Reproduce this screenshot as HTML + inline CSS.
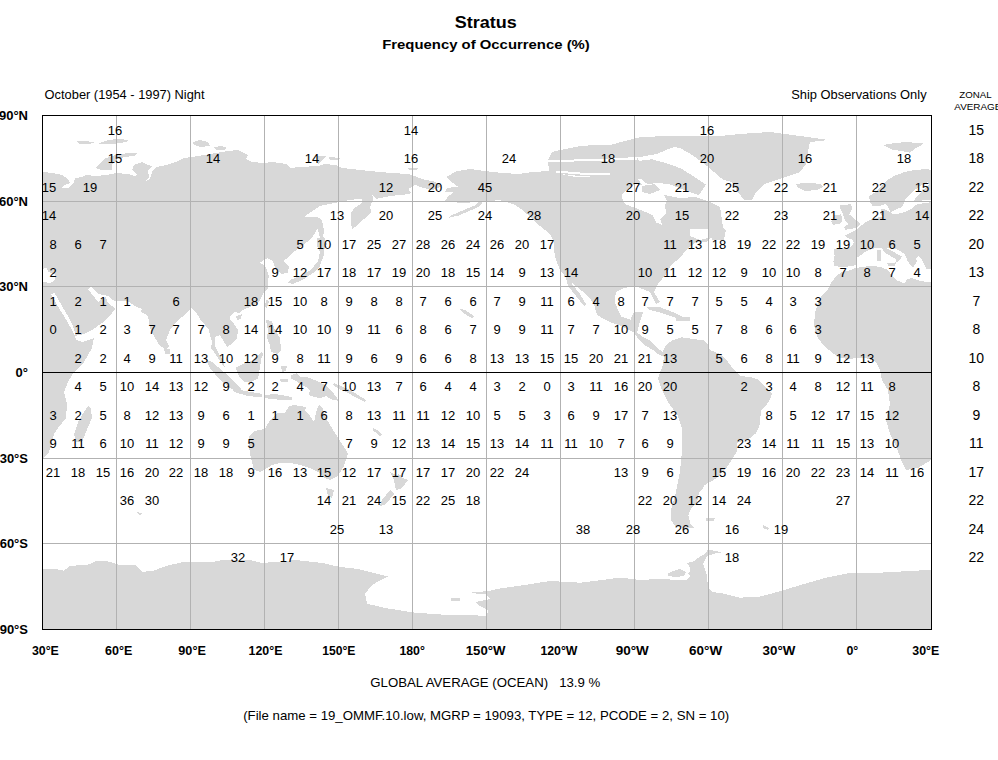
<!DOCTYPE html>
<html><head><meta charset="utf-8"><style>html,body{margin:0;padding:0;background:#fff;width:998px;height:760px;overflow:hidden;position:relative}</style></head>
<body><svg width="998" height="760" viewBox="0 0 998 760" style="position:absolute;left:0;top:0"><defs><clipPath id="c"><rect x="42" y="115" width="889" height="514"/></clipPath></defs><g clip-path="url(#c)"><path d="M30,172 43,172 52,173 62,175 68,179 70,183 64,185 62,188 68,188 74,183 75,178 82,177 86,175 96,176 106,175 116,173 128,174 134,176 138,175 132,170 134,165 142,162 148,165 152,166 148,170 149,178 144,182 150,179 152,172 156,167 166,165 176,162 184,158 198,156 216,153 228,151 238,150 242,152 248,155 246,159 252,162 264,163 272,162 286,164 290,168 300,167 318,166 324,164 336,165 342,168 360,170 380,172 392,173 408,174 414,175.8 423,179.4 433.3,181.2 440,184 442,186 432,190.3 423,187.8 414.6,184.8 408.6,189 411,193.3 405,194.5 390,196 376,199 372,194.8 373.5,199 372,201.8 370,207.4 371.4,211.6 366.5,216.6 360,222.9 352.4,229.2 351,224.3 351,213 354.5,208 361.6,203.2 361.6,199 351,199.7 340.5,201.8 334,203 320,206 308,214 304,217 312,217 319.5,217.6 318,228 312,238 305,243.7 295,251 287.6,258 283,261 289,267 287.6,272.6 281.8,274 276,270 273,261 267.4,258 260,262.5 266,267 268.8,275.5 267.4,287 268,288 263,294 260,300 256,304 250,307 243,310 239,313 234,312 230,316 230,319 234,324 238,330 237,338 232,344 227,347 223,340 220,335 215,337 215,346 219,354 223,360 225,368 222,364 218,358 214,352 211,348 212,342 210,335 209,330 205,325 200,319 196,312 191,308 186,314 178,320 170,330 166,340 169,346 166,349 160,346 154,336 150,328 148,316 140,311 142,309 135,306 127,300.5 116,301 112,300 108,296 98,294 91,287 88,289 95,298 98,302 102,299 106,297 108,303 112,306 115,308 115,309 110,316 102,323 92,330 84,334 75,336 75,332 72,324 68,316 62,306 54.5,293 51,294 57,305 62,313 67,321 73,332 75,336 76,340 82,342 94,338 92,348 84,362 74,372 68,382 64,392 67,404 66,418 58,428 54,434 52,444 48,454 43,458 30,458ZM77,141.5 86,141 94,142.5 90,144 80,144ZM99,143 108,140 118,139 129,140 126,142 112,144 100,144.5ZM193,142 200,140 208,142 210,146 200,147 194,145ZM214,147 222,146 227,148 224,150 216,150ZM95,168 100,163 106,158 116,155 128,153 138,153 134,156 124,157 116,160 112,165 112,170 102,170ZM316,156 326,156 322,160 319,164 316,162ZM329,157 340,158 338,160 330,160ZM408,168 418,168 416,170 409,170ZM318,217.6 322,220 324,230 323,238 319,236 318,228ZM316.5,238 324,237 327,244 324,250 323.8,255.2 319.5,266.8 313.7,272.6 305,278.4 293.4,284 287.6,282.6 290.5,279.8 300.7,275.5 311,269.7 318,261 320,252 317,246ZM236,316 242,314 241,319 237,320ZM266,300 269,301 267,308 265,307ZM266,320 272,321 274,328 277,333 280,338 281,350 277,354 271,352 270,345 267,338 268,330ZM206,360 212,362 224,372 234,382 242,389 238,392 230,388 220,380 210,368ZM232.6,388.5 245,391 262.5,394 262,397.3 248,396 234,392ZM236,367.5 242.6,364 251.4,361 258,355.4 261.4,352 263.6,353 261.4,358.7 260,366.4 259,373 258,378.6 251.4,382 244.8,382 239.3,376.4 237,372ZM164,348 170,349 170,354 165,354ZM460,308.5 465,310 474,316 473,318.5 468,316 461,311ZM334,383 341,386 350,390 358,395 366,400 365,402 357,398 348,393 339,389 333,385ZM373,428 377,430 382,435 380,436.5 375,432 372.5,430ZM398,474 402,476 400,478 397,476ZM88,406 91,409 92,418 86,432 82,442 76,442 74,434 79,420 84,412ZM249,436 254,431 264,429 266,427 270,420 278,413 285,413 289,406 294,405 306,407 305,411 310,416 314,422 317,409 319,404.5 322.6,408 325,416.5 330,425 336,434.5 340.6,442 345.4,449 348,454 344,466 338,476 330,480 324,478 318,472 310,468 300,465 290,463 280,463 272,465 264,470 260,472 254,470 252,462 250,454 249,446ZM326,488 334,490 332,498 328,496ZM390,472 398,476 408,480 402,488 396,490 394,480ZM390,490 394,494 386,504 380,506 382,500ZM290.8,375 296.5,373.4 300.5,377.4 305.3,376.6 310,378.2 318,381.5 326,385.5 331,390.3 335.7,396 339,400.7 332.5,400 326,396 320.5,398.3 314,396.7 308.5,395 310,390.3 306,387 300.5,383.9 295.6,380.6 291.6,379ZM264,395 275,394 284,395.5 292,397 292,400 282,400 272,399 264,398ZM281,366 287,366 286,371 282,372ZM280,379 288,379 287.6,382 281,382ZM30,569 43,569 52,568.5 64,570.6 70,566 88,564.6 97,560.7 109,561.6 118,564.6 136,565.5 142,572 154,570.6 166,566 181,562.5 214,561.6 223,560 250,560 262,563 280,561.6 295,560 322.5,563 340,567 358,569 370,572 388,576.6 379,581 372,585 365,594 367,603.7 385,608 415,612.7 445,614.8 487,615.7 488,610 480,606 475,602 490,599 486,594 466,593 489,591 499,588.7 520,585.7 550,581 580,582.7 604.5,579.7 619.5,577.5 640,580 658,579 668,579.3 676,580 686.5,580 690,576 688,573.7 690.5,570.5 689,565.7 686.5,563 694.5,561 698.5,557.6 705,553.6 708,549.6 716,551 721.7,552.8 716,553 707.3,556 703,564 706.5,573.7 707.3,580 708,588 712,592 724,593.7 740,597.7 760,596.6 781,591 805,583.7 826,577.7 850,573 874,573 898,571.7 928.5,570 940,570 940,640 30,640ZM668,573.7 672.8,571 680,569 686,572 684,576 676,577 668,576ZM451,597.7 460,597.7 460,600.7 451,600.7ZM706,517.6 715,518 714,520.6 706,520.6ZM763,525 769,528 768,530 763,528ZM136,512 142,513 140,515ZM446.7,176.8 456.5,171.2 470.5,169 486,171.2 498.6,172.6 518,174 532,172 549,171 560,174 575,177 589,177 601,176 609,175 615,179 621,175 625,178 634,176 640,182 645,190 664,195 680,198 695,197 708,201 720,207 724,234 716,234 706,242 696,242 686,250 680,258 672,264 666,274 658,284 654,292 660,302 656,304 650,292 640,288 634,286 624,288 616,292 614.5,302 621,316.5 630.5,319.7 634,311.7 643.4,311.7 640,321.3 637,332.5 643.4,337.3 650,340.5 656,347 662.6,351.8 665.8,345.4 672,340.5 681.8,337.3 693,339 704.3,340.5 707.5,343.7 710,350 720,354 728,362 734,370 740,376 750,377 758,379.5 772,393.7 769,401.6 761,411 759.5,425.3 756,433.2 750,438 737.4,442.7 737.4,450.6 732.7,458.5 726.3,468 715.3,479 704.2,485.3 703,488.4 699,492.6 696.8,503 690.5,509.5 688.4,515.8 690.5,524 694.7,528.4 686.3,528.4 675.8,526.3 670.5,520 671.6,507.4 675.8,492.6 680,471.6 682,450.5 682,440 682,428 678,416 668,402 662,390 658,378 662.6,366 664,356.6 659.4,355 653,350 645,345.4 637,337.3 634,332.5 621,326 608,321.3 597,315 594,304 588,296 576,286 568,280 560,270 556,260 554,250 554,242 550,234 543.4,228.7 536.4,223 529.4,216 521,209 515.4,205 507,202 498.6,200 493,200.7 481.7,200.7 481.7,203.5 479,206.3 470.5,210.5 459,215.4 449.5,217.5 449.5,216 456.5,213.3 466,209 476,205 479,200.7 473.3,202 462,203.5 455,202 445.2,200.7 448,196.5 453.7,192.3 445.2,192.3 446.7,188 457.9,186.7 452.3,182.4ZM940,169 931,169.8 926,169.2 916,169.8 904,172.2 894.5,175.8 888.5,179.4 882.5,185.4 876.5,191.5 869,196.3 870,202.4 873,206.4 881,205.6 886,204 889,208.8 890.7,212 887,211 886,209.6 881,208.8 881,213.6 882.7,216.8 877,217.6 870,220 865,222.5 860.3,226.5 857,229.7 853.9,231.3 849,233.7 845,235.3 847.4,237.7 853,240 853.9,242.8 850.8,247 843,248.2 834,248.8 834.6,256 833.4,261.5 834.6,266.3 846,266.9 853.3,265.7 856.3,264.5 855.7,268 849,270.5 841.2,272.3 835.8,276.5 831,283 828,289.3 822.4,295 818,302 815.4,311.7 814,323 815,330 818,338 824,346 834,354 840,358 850,359 856,358 866,358 876,362 880,370 882,380 888,390 890,404 886,420 890,434 896,446 902,462 906,470 918,468 928,462 931,460 940,460Z" fill="#d8d8d8" shape-rendering="crispEdges"/><path d="M43,268.6 47,268 48,272 55,274 55.5,279 52,282 49,283 44,282 42,283 42,268ZM856.3,264.5 856.9,257.8 860.5,255.4 864,252.4 869,250 875,248.2 881,247.5 885.5,253.4 891,256.2 895.4,259 896.5,261 893.8,263.4 898,262 902,256.7 898,254.5 892.7,251.2 887,248.5 891,247.4 896.5,249 902,252.3 904.8,254.5 907.6,261 911,265.6 913,267.8 914,265.6 917.5,261 915.3,259 918.6,256.2 922,260 924,264.5 926.3,268.9 931,269 940,269 940,283 929,282.3 920.6,280.9 912,278 906.6,279.5 905,283.7 898,280.9 892.6,276.7 888,270 882,267.5 876,266.3 867,266.3 859.3,267.5 855.7,268ZM902,207.2 904,203 906,198 912,192 920,186 928,182 929,185 922,191 916,197 914,201 922,200.5 931,200 940,200 940,203 931,202.3 922,203.5 916,204.7 911,209 905,212 898.7,213.6 893,214.4 890.7,212 897,208.8ZM623,202 622,195 628,188 636,184 645,186 652,192 664,195 667,201 665,204.7 666,213 660,219 662.5,225 656.5,222.7 653,215.5 648,213 636,208.3 626.5,204.7ZM690,229 708,229 708,238 700,240 690,236Z" fill="#fff" shape-rendering="crispEdges"/><path d="M566,278 572,284 580,294 586,304 584,306 576,296 568,286ZM646.6,307 659.4,307 672,311.7 681.8,316.5 672,316.5 662.6,313.3 650,310ZM675.4,317 690,317 690,321.3 676,321ZM708,226 718,224 726,230 724,240 712,240ZM548,160 552,152 565,149 580,146 595,145 610,145 625,141 637,138 637,157 641,165 637.4,170 641,179 630,178 615,179 600,177 580,176 560,174 549,171ZM624.8,141.2 637.4,137.6 666,135.8 698.7,135.8 693.3,141.2 682.5,144.8 670,148.4 657.2,153.9 637.4,157.5ZM637.4,161 651.8,159.3 666,163 680.7,168.3 695,177.3 706,184.5 698.7,195.3 684.3,190 670,184.5 657.2,182.7 648,184.5 641,179 637.4,170ZM642,186 655,184 660,190 650,194 642,192ZM680,136 700,136 720,136 740,134 770,132 800,136 828,140 810,142 808,152 806,164 800,172 788,176 776,180 764,184 756,192 752,200 744,200 738,192 732,182 724,180 720,177.3 707.7,166.5 693.3,155.7 680.7,148.4 670,146ZM796,184 808,182.6 820,184 823,187 817,190 805,191 797.5,187ZM883,145 895,143 907,142 924,143.6 916,148 910,152.6 901,151 892,149.6ZM839.4,205.6 845.8,204.8 850.7,204 852.3,208.8 849,214.4 852.3,216.8 855.5,220 858.7,221.7 860.3,224.9 857,227.3 851.5,228.9 845,229.7 844.2,227.3 848.2,224 845,220 843.4,215.2 841,210.4ZM834.6,215.2 841,214.4 842.6,219.2 841,223.3 833,224.9 831.4,221.7 833,217.6ZM887,263 896,263 895,265.6 888,265.6ZM877.3,250 881,250 881,260.8 877.3,260.8Z" fill="#d8d8d8" shape-rendering="crispEdges"/><path d="M548,160 600,159 637,157 637,159.5 600,161 548,162ZM556,170.5 580,172.5 610,173.5 610,175 580,174.5 556,172.5Z" fill="#fff" shape-rendering="crispEdges"/></g><path d="M116.5,115V629M190.5,115V629M264.5,115V629M338.5,115V629M412.5,115V629M486.5,115V629M560.5,115V629M634.5,115V629M708.5,115V629M782.5,115V629M856.5,115V629M42,201.5H931M42,286.5H931M42,458.5H931M42,543.5H931" stroke="#b2b2b2" stroke-width="1" fill="none"/><path d="M42,372.5H931" stroke="#000" stroke-width="1" fill="none"/><rect x="42.5" y="115.5" width="889" height="514" fill="none" stroke="#000" stroke-width="1"/><g font-family="Liberation Sans" font-size="13" text-anchor="middle" fill="#000"><text x="115" y="134.5">16</text><text x="411" y="134.5">14</text><text x="707" y="134.5">16</text><text x="115" y="162.5">15</text><text x="213" y="162.5">14</text><text x="312" y="162.5">14</text><text x="411" y="162.5">16</text><text x="509" y="162.5">24</text><text x="608" y="162.5">18</text><text x="707" y="162.5">20</text><text x="805" y="162.5">16</text><text x="904" y="162.5">18</text><text x="49" y="191.5">15</text><text x="90" y="191.5">19</text><text x="386" y="191.5">12</text><text x="435" y="191.5">20</text><text x="485" y="191.5">45</text><text x="633" y="191.5">27</text><text x="682" y="191.5">21</text><text x="732" y="191.5">25</text><text x="781" y="191.5">22</text><text x="830" y="191.5">21</text><text x="879" y="191.5">22</text><text x="922" y="191.5">15</text><text x="49" y="219.5">14</text><text x="337" y="219.5">13</text><text x="386" y="219.5">20</text><text x="435" y="219.5">25</text><text x="485" y="219.5">24</text><text x="534" y="219.5">28</text><text x="633" y="219.5">20</text><text x="682" y="219.5">15</text><text x="732" y="219.5">22</text><text x="781" y="219.5">23</text><text x="830" y="219.5">21</text><text x="879" y="219.5">21</text><text x="922" y="219.5">14</text><text x="53" y="248.5">8</text><text x="78" y="248.5">6</text><text x="103" y="248.5">7</text><text x="300" y="248.5">5</text><text x="324" y="248.5">10</text><text x="349" y="248.5">17</text><text x="374" y="248.5">25</text><text x="399" y="248.5">27</text><text x="423" y="248.5">28</text><text x="448" y="248.5">26</text><text x="473" y="248.5">24</text><text x="497" y="248.5">26</text><text x="522" y="248.5">20</text><text x="547" y="248.5">17</text><text x="670" y="248.5">11</text><text x="695" y="248.5">13</text><text x="719" y="248.5">18</text><text x="744" y="248.5">19</text><text x="769" y="248.5">22</text><text x="793" y="248.5">22</text><text x="818" y="248.5">19</text><text x="843" y="248.5">19</text><text x="867" y="248.5">10</text><text x="892" y="248.5">6</text><text x="917" y="248.5">5</text><text x="53" y="276.5">2</text><text x="275" y="276.5">9</text><text x="300" y="276.5">12</text><text x="324" y="276.5">17</text><text x="349" y="276.5">18</text><text x="374" y="276.5">17</text><text x="399" y="276.5">19</text><text x="423" y="276.5">20</text><text x="448" y="276.5">18</text><text x="473" y="276.5">15</text><text x="497" y="276.5">14</text><text x="522" y="276.5">9</text><text x="547" y="276.5">13</text><text x="571" y="276.5">14</text><text x="645" y="276.5">10</text><text x="670" y="276.5">11</text><text x="695" y="276.5">12</text><text x="719" y="276.5">12</text><text x="744" y="276.5">9</text><text x="769" y="276.5">10</text><text x="793" y="276.5">10</text><text x="818" y="276.5">8</text><text x="843" y="276.5">7</text><text x="867" y="276.5">8</text><text x="892" y="276.5">7</text><text x="917" y="276.5">4</text><text x="53" y="305.5">1</text><text x="78" y="305.5">2</text><text x="103" y="305.5">1</text><text x="127" y="305.5">1</text><text x="176" y="305.5">6</text><text x="251" y="305.5">18</text><text x="275" y="305.5">15</text><text x="300" y="305.5">10</text><text x="324" y="305.5">8</text><text x="349" y="305.5">9</text><text x="374" y="305.5">8</text><text x="399" y="305.5">8</text><text x="423" y="305.5">7</text><text x="448" y="305.5">6</text><text x="473" y="305.5">6</text><text x="497" y="305.5">7</text><text x="522" y="305.5">9</text><text x="547" y="305.5">11</text><text x="571" y="305.5">6</text><text x="596" y="305.5">4</text><text x="621" y="305.5">8</text><text x="645" y="305.5">7</text><text x="670" y="305.5">7</text><text x="695" y="305.5">7</text><text x="719" y="305.5">5</text><text x="744" y="305.5">5</text><text x="769" y="305.5">4</text><text x="793" y="305.5">3</text><text x="818" y="305.5">3</text><text x="53" y="333.5">0</text><text x="78" y="333.5">1</text><text x="103" y="333.5">2</text><text x="127" y="333.5">3</text><text x="152" y="333.5">7</text><text x="176" y="333.5">7</text><text x="201" y="333.5">7</text><text x="226" y="333.5">8</text><text x="251" y="333.5">14</text><text x="275" y="333.5">14</text><text x="300" y="333.5">10</text><text x="324" y="333.5">10</text><text x="349" y="333.5">9</text><text x="374" y="333.5">11</text><text x="399" y="333.5">6</text><text x="423" y="333.5">8</text><text x="448" y="333.5">6</text><text x="473" y="333.5">7</text><text x="497" y="333.5">9</text><text x="522" y="333.5">9</text><text x="547" y="333.5">11</text><text x="571" y="333.5">7</text><text x="596" y="333.5">7</text><text x="621" y="333.5">10</text><text x="645" y="333.5">9</text><text x="670" y="333.5">5</text><text x="695" y="333.5">5</text><text x="719" y="333.5">7</text><text x="744" y="333.5">8</text><text x="769" y="333.5">6</text><text x="793" y="333.5">6</text><text x="818" y="333.5">3</text><text x="78" y="362.5">2</text><text x="103" y="362.5">2</text><text x="127" y="362.5">4</text><text x="152" y="362.5">9</text><text x="176" y="362.5">11</text><text x="201" y="362.5">13</text><text x="226" y="362.5">10</text><text x="251" y="362.5">12</text><text x="275" y="362.5">9</text><text x="300" y="362.5">8</text><text x="324" y="362.5">11</text><text x="349" y="362.5">9</text><text x="374" y="362.5">6</text><text x="399" y="362.5">9</text><text x="423" y="362.5">6</text><text x="448" y="362.5">6</text><text x="473" y="362.5">8</text><text x="497" y="362.5">13</text><text x="522" y="362.5">13</text><text x="547" y="362.5">15</text><text x="571" y="362.5">15</text><text x="596" y="362.5">20</text><text x="621" y="362.5">21</text><text x="645" y="362.5">21</text><text x="670" y="362.5">13</text><text x="719" y="362.5">5</text><text x="744" y="362.5">6</text><text x="769" y="362.5">8</text><text x="793" y="362.5">11</text><text x="818" y="362.5">9</text><text x="843" y="362.5">12</text><text x="867" y="362.5">13</text><text x="78" y="390.5">4</text><text x="103" y="390.5">5</text><text x="127" y="390.5">10</text><text x="152" y="390.5">14</text><text x="176" y="390.5">13</text><text x="201" y="390.5">12</text><text x="226" y="390.5">9</text><text x="251" y="390.5">2</text><text x="275" y="390.5">2</text><text x="300" y="390.5">4</text><text x="324" y="390.5">7</text><text x="349" y="390.5">10</text><text x="374" y="390.5">13</text><text x="399" y="390.5">7</text><text x="423" y="390.5">6</text><text x="448" y="390.5">4</text><text x="473" y="390.5">4</text><text x="497" y="390.5">3</text><text x="522" y="390.5">2</text><text x="547" y="390.5">0</text><text x="571" y="390.5">3</text><text x="596" y="390.5">11</text><text x="621" y="390.5">16</text><text x="645" y="390.5">20</text><text x="670" y="390.5">20</text><text x="744" y="390.5">2</text><text x="769" y="390.5">3</text><text x="793" y="390.5">4</text><text x="818" y="390.5">8</text><text x="843" y="390.5">12</text><text x="867" y="390.5">11</text><text x="892" y="390.5">8</text><text x="53" y="419.5">3</text><text x="78" y="419.5">2</text><text x="103" y="419.5">5</text><text x="127" y="419.5">8</text><text x="152" y="419.5">12</text><text x="176" y="419.5">13</text><text x="201" y="419.5">9</text><text x="226" y="419.5">6</text><text x="251" y="419.5">1</text><text x="275" y="419.5">1</text><text x="300" y="419.5">1</text><text x="324" y="419.5">6</text><text x="349" y="419.5">8</text><text x="374" y="419.5">13</text><text x="399" y="419.5">11</text><text x="423" y="419.5">11</text><text x="448" y="419.5">12</text><text x="473" y="419.5">10</text><text x="497" y="419.5">5</text><text x="522" y="419.5">5</text><text x="547" y="419.5">3</text><text x="571" y="419.5">6</text><text x="596" y="419.5">9</text><text x="621" y="419.5">17</text><text x="645" y="419.5">7</text><text x="670" y="419.5">13</text><text x="769" y="419.5">8</text><text x="793" y="419.5">5</text><text x="818" y="419.5">12</text><text x="843" y="419.5">17</text><text x="867" y="419.5">15</text><text x="892" y="419.5">12</text><text x="53" y="447.5">9</text><text x="78" y="447.5">11</text><text x="103" y="447.5">6</text><text x="127" y="447.5">10</text><text x="152" y="447.5">11</text><text x="176" y="447.5">12</text><text x="201" y="447.5">9</text><text x="226" y="447.5">9</text><text x="251" y="447.5">5</text><text x="349" y="447.5">7</text><text x="374" y="447.5">9</text><text x="399" y="447.5">12</text><text x="423" y="447.5">13</text><text x="448" y="447.5">14</text><text x="473" y="447.5">15</text><text x="497" y="447.5">13</text><text x="522" y="447.5">14</text><text x="547" y="447.5">11</text><text x="571" y="447.5">11</text><text x="596" y="447.5">10</text><text x="621" y="447.5">7</text><text x="645" y="447.5">6</text><text x="670" y="447.5">9</text><text x="744" y="447.5">23</text><text x="769" y="447.5">14</text><text x="793" y="447.5">11</text><text x="818" y="447.5">11</text><text x="843" y="447.5">15</text><text x="867" y="447.5">13</text><text x="892" y="447.5">10</text><text x="53" y="476.5">21</text><text x="78" y="476.5">18</text><text x="103" y="476.5">15</text><text x="127" y="476.5">16</text><text x="152" y="476.5">20</text><text x="176" y="476.5">22</text><text x="201" y="476.5">18</text><text x="226" y="476.5">18</text><text x="251" y="476.5">9</text><text x="275" y="476.5">16</text><text x="300" y="476.5">13</text><text x="324" y="476.5">15</text><text x="349" y="476.5">12</text><text x="374" y="476.5">17</text><text x="399" y="476.5">17</text><text x="423" y="476.5">17</text><text x="448" y="476.5">17</text><text x="473" y="476.5">20</text><text x="497" y="476.5">22</text><text x="522" y="476.5">24</text><text x="621" y="476.5">13</text><text x="645" y="476.5">9</text><text x="670" y="476.5">6</text><text x="719" y="476.5">15</text><text x="744" y="476.5">19</text><text x="769" y="476.5">16</text><text x="793" y="476.5">20</text><text x="818" y="476.5">22</text><text x="843" y="476.5">23</text><text x="867" y="476.5">14</text><text x="892" y="476.5">11</text><text x="917" y="476.5">16</text><text x="127" y="504.5">36</text><text x="152" y="504.5">30</text><text x="324" y="504.5">14</text><text x="349" y="504.5">21</text><text x="374" y="504.5">24</text><text x="399" y="504.5">15</text><text x="423" y="504.5">22</text><text x="448" y="504.5">25</text><text x="473" y="504.5">18</text><text x="645" y="504.5">22</text><text x="670" y="504.5">20</text><text x="695" y="504.5">12</text><text x="719" y="504.5">14</text><text x="744" y="504.5">24</text><text x="843" y="504.5">27</text><text x="337" y="533.5">25</text><text x="386" y="533.5">13</text><text x="583" y="533.5">38</text><text x="633" y="533.5">28</text><text x="682" y="533.5">26</text><text x="732" y="533.5">16</text><text x="781" y="533.5">19</text><text x="238" y="561.5">32</text><text x="287" y="561.5">17</text><text x="732" y="561.5">18</text></g><g font-family="Liberation Sans" font-size="14" text-anchor="middle" fill="#000"><text x="976.3" y="135.3">15</text><text x="976.3" y="163.3">18</text><text x="976.3" y="192.3">22</text><text x="976.3" y="220.3">22</text><text x="976.3" y="249.3">20</text><text x="976.3" y="277.3">13</text><text x="976.3" y="306.3">7</text><text x="976.3" y="334.3">8</text><text x="976.3" y="363.3">10</text><text x="976.3" y="391.3">8</text><text x="976.3" y="420.3">9</text><text x="976.3" y="448.3">11</text><text x="976.3" y="477.3">17</text><text x="976.3" y="505.3">22</text><text x="976.3" y="534.3">24</text><text x="976.3" y="562.3">22</text></g><g font-family="Liberation Sans" font-weight="bold" font-size="13" text-anchor="end" fill="#000"><text x="28" y="119.5">90°N</text><text x="28" y="205.5">60°N</text><text x="28" y="290.5">30°N</text><text x="28" y="376.5">0°</text><text x="28" y="462.5">30°S</text><text x="28" y="547.5">60°S</text><text x="28" y="633.5">90°S</text></g><g font-family="Liberation Sans" font-weight="bold" font-size="13" fill="#000"><text x="31.9" y="655" textLength="27.0" lengthAdjust="spacingAndGlyphs">30°E</text><text x="105.1" y="655" textLength="27.3" lengthAdjust="spacingAndGlyphs">60°E</text><text x="178.3" y="655" textLength="27.6" lengthAdjust="spacingAndGlyphs">90°E</text><text x="248.5" y="655" textLength="33.9" lengthAdjust="spacingAndGlyphs">120°E</text><text x="322.2" y="655" textLength="33.199999999999996" lengthAdjust="spacingAndGlyphs">150°E</text><text x="399.4" y="655" textLength="25.5" lengthAdjust="spacingAndGlyphs">180°</text><text x="465.7" y="655" textLength="39.8" lengthAdjust="spacingAndGlyphs">150°W</text><text x="540.4" y="655" textLength="37.099999999999994" lengthAdjust="spacingAndGlyphs">120°W</text><text x="615.7" y="655" textLength="33.099999999999994" lengthAdjust="spacingAndGlyphs">90°W</text><text x="689.1" y="655" textLength="33.099999999999994" lengthAdjust="spacingAndGlyphs">60°W</text><text x="762.6" y="655" textLength="32.8" lengthAdjust="spacingAndGlyphs">30°W</text><text x="846.5" y="655" textLength="11.8" lengthAdjust="spacingAndGlyphs">0°</text><text x="912.3" y="655" textLength="26.900000000000002" lengthAdjust="spacingAndGlyphs">30°E</text></g><text x="454.8" y="27.7" font-family="Liberation Sans" font-size="17" font-weight="bold" textLength="62" lengthAdjust="spacingAndGlyphs" xml:space="preserve">Stratus</text><text x="382.2" y="49.3" font-family="Liberation Sans" font-size="13.5" font-weight="bold" textLength="207.6" lengthAdjust="spacingAndGlyphs" xml:space="preserve">Frequency of Occurrence (%)</text><text x="44.6" y="98.8" font-family="Liberation Sans" font-size="13" textLength="160" lengthAdjust="spacingAndGlyphs" xml:space="preserve">October (1954 - 1997) Night</text><text x="791.2" y="98.7" font-family="Liberation Sans" font-size="13" textLength="135.4" lengthAdjust="spacingAndGlyphs" xml:space="preserve">Ship Observations Only</text><text x="959.3" y="97.6" font-family="Liberation Sans" font-size="9.7" textLength="32.3" lengthAdjust="spacingAndGlyphs" xml:space="preserve">ZONAL</text><text x="954.3" y="109.7" font-family="Liberation Sans" font-size="9.7" textLength="47" lengthAdjust="spacingAndGlyphs" xml:space="preserve">AVERAGE</text><text x="370.3" y="687" font-family="Liberation Sans" font-size="13" textLength="230" lengthAdjust="spacingAndGlyphs" xml:space="preserve">GLOBAL AVERAGE (OCEAN)   13.9 %</text><text x="243.2" y="720" font-family="Liberation Sans" font-size="13" textLength="486" lengthAdjust="spacingAndGlyphs" xml:space="preserve">(File name = 19_OMMF.10.low, MGRP = 19093, TYPE = 12, PCODE = 2, SN = 10)</text></svg></body></html>
